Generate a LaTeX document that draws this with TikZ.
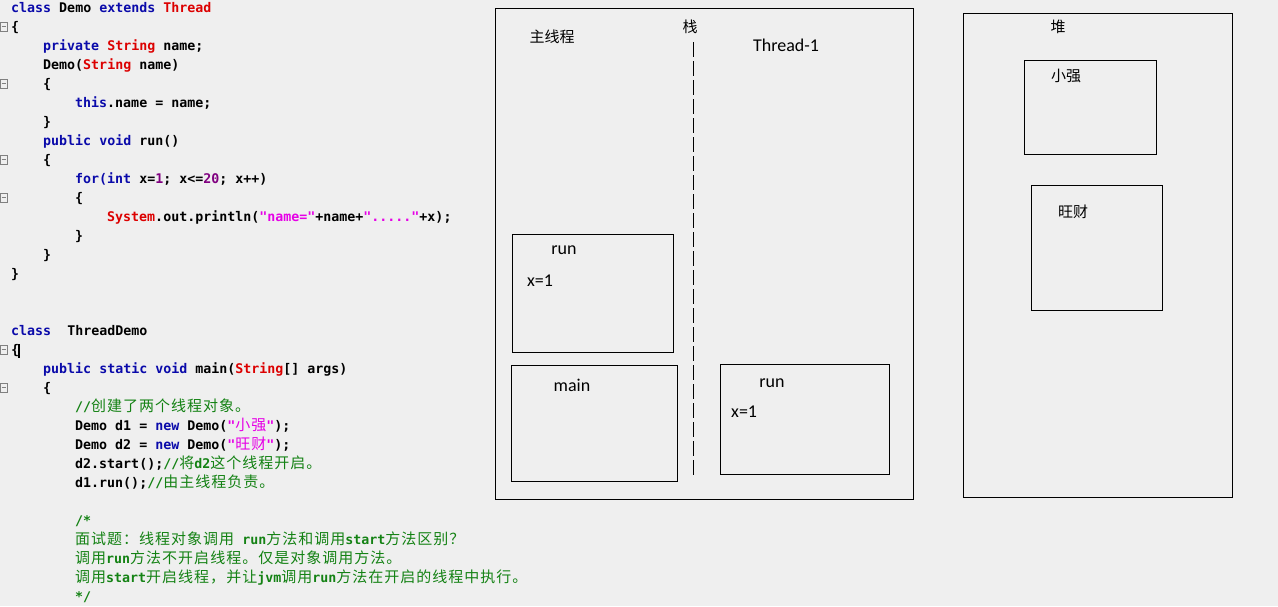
\documentclass[tikz,border=0pt]{standalone}
\usepackage{fontspec}
\setmainfont{Carlito}
\newfontfamily\codefam{DejaVu Sans Mono}
\newfontfamily\cjkcode{Noto Sans CJK SC}[LetterSpace=6.7]
\newfontfamily\cjklab{Noto Sans CJK SC}
\definecolor{bgc}{RGB}{239,239,239}
\definecolor{kwblue}{RGB}{10,10,170}
\definecolor{tyred}{RGB}{220,0,0}
\definecolor{strmag}{RGB}{230,0,230}
\definecolor{numpur}{RGB}{128,0,128}
\definecolor{cmgreen}{RGB}{20,130,20}
\newcommand\cKw[1]{\textcolor{kwblue}{#1}}
\newcommand\cTy[1]{\textcolor{tyred}{#1}}
\newcommand\cSt[1]{\textcolor{strmag}{#1}}
\newcommand\cNm[1]{\textcolor{numpur}{#1}}
\newcommand\cCm[1]{\textcolor{cmgreen}{#1}}
\newcommand\cZh[1]{{\cjkcode\mdseries\fontsize{15}{19}\selectfont #1}}
\tikzset{
  code/.style={anchor=base west, inner sep=0pt, font={\codefam\bfseries\fontsize{13.3}{19}\selectfont}},
  fold/.style={draw=gray, line width=0.7pt, inner sep=0pt, minimum width=7pt, minimum height=9pt,
    path picture={\draw[gray, line width=0.7pt] ([xshift=1.5pt]path picture bounding box.west) -- ([xshift=-1.5pt]path picture bounding box.east);}},
  box/.style={draw=black, line width=1pt, inner sep=0pt},
  lab/.style={inner sep=0pt, font={\fontsize{18}{20}\selectfont}},
  zlab/.style={inner sep=0pt, font={\cjklab\fontsize{15}{17}\selectfont}},
}
\begin{document}
\begin{tikzpicture}[x=1pt,y=-1pt]
\fill[bgc] (0,0) rectangle (1278,606);
\useasboundingbox (0,0) rectangle (1278,606);

% ---------- code ----------
\node[code] (c0) at (11,12) {\cKw{class} Demo \cKw{extends} \cTy{Thread}};
\node[code] (c1) at (11,31) {\{};
\node[code] (c2) at (43,50) {\cKw{private} \cTy{String} name;};
\node[code] (c3) at (43,69) {Demo(\cTy{String} name)};
\node[code] (c4) at (43,88) {\{};
\node[code] (c5) at (75,107) {\cKw{this}.name = name;};
\node[code] (c6) at (43,126) {\}};
\node[code] (c7) at (43,145) {\cKw{public} \cKw{void} run()};
\node[code] (c8) at (43,164) {\{};
\node[code] (c9) at (75,183) {\cKw{for(int} x=\cNm{1}; x<=\cNm{20}; x++)};
\node[code] (c10) at (75,202) {\{};
\node[code] (c11) at (107,221) {\cTy{System}.out.println(\cSt{"name="}+name+\cSt{"....."}+x);};
\node[code] (c12) at (75,240) {\}};
\node[code] (c13) at (43,259) {\}};
\node[code] (c14) at (11,278) {\}};
\node[code] (c17) at (11,335) {\cKw{class}\ \ ThreadDemo};
\node[code] (c18) at (11,354) {\{};
\node[code] (c19) at (43,373) {\cKw{public} \cKw{static} \cKw{void} main(\cTy{String}[] args)};
\node[code] (c20) at (43,392) {\{};
\node[code] (c21) at (75,411) {\cCm{//\cZh{创建了两个线程对象。}}};
\node[code] (c22) at (75,430) {Demo d1 = \cKw{new} Demo(\cSt{"\cZh{小强}"});};
\node[code] (c23) at (75,449) {Demo d2 = \cKw{new} Demo(\cSt{"\cZh{旺财}"});};
\node[code] (c24) at (75,468) {d2.start();\cCm{//\cZh{将}d2\cZh{这个线程开启。}}};
\node[code] (c25) at (75,487) {d1.run();\cCm{//\cZh{由主线程负责。}}};
\node[code] (c27) at (75,525) {\cCm{/*}};
\node[code] (c28) at (75,544) {\cCm{\cZh{面试题：线程对象调用} run\cZh{方法和调用}start\cZh{方法区别？}}};
\node[code] (c29) at (75,563) {\cCm{\cZh{调用}run\cZh{方法不开启线程。仅是对象调用方法。}}};
\node[code] (c30) at (75,582) {\cCm{\cZh{调用}start\cZh{开启线程，并让}jvm\cZh{调用}run\cZh{方法在开启的线程中执行。}}};
\node[code] (c31) at (75,601) {\cCm{*/}};

% fold markers
\node[fold] (f1) at (3.5,26.5) {};
\node[fold] (f2) at (3.5,83.5) {};
\node[fold] (f3) at (3.5,159.5) {};
\node[fold] (f4) at (3.5,197.5) {};
\node[fold] (f5) at (3.5,349.5) {};
\node[fold] (f6) at (3.5,387.5) {};
% text cursor
\coordinate (curT) at (19,344);
\coordinate (curB) at (19,358);
\draw[line width=1.2pt] (curT) -- (curB);

% ---------- stack ----------
\node[box, minimum width=418pt, minimum height=491pt] (stack) at (704,253.5) {};
\node[zlab] (zhan) at (690,27) {栈};
\node[zlab] (mainthr) at (552,37) {主线程};
\node[lab] (t1) at (786,45) {Thread-1};
\coordinate (dTop) at (693,42);
\coordinate (dBot) at (693,478);
\draw[line width=0.9pt, dash pattern=on 15pt off 4pt] (dTop) -- (dBot);

\node[box, minimum width=161pt, minimum height=118pt] (runA) at (592.5,293) {};
\node[lab] (runAl) at (564,250) {run};
\node[lab, anchor=west] (runAx) at (527,281) {x=1};

\node[box, minimum width=166pt, minimum height=116pt] (mainB) at (594,423) {};
\node[lab] (mainBl) at (572,385) {main};

\node[box, minimum width=169pt, minimum height=110pt] (runB) at (804.5,419) {};
\node[lab] (runBl) at (772,383) {run};
\node[lab, anchor=west] (runBx) at (731,412) {x=1};

% ---------- heap ----------
\node[box, minimum width=269pt, minimum height=484pt] (heap) at (1097.5,255) {};
\node[zlab] (dui) at (1058,27) {堆};
\node[box, minimum width=132pt, minimum height=94pt] (xq) at (1090,107) {};
\node[zlab] (xql) at (1066,76) {小强};
\node[box, minimum width=131pt, minimum height=125pt] (wc) at (1096.5,247.5) {};
\node[zlab] (wcl) at (1073,212) {旺财};
\end{tikzpicture}
\end{document}
